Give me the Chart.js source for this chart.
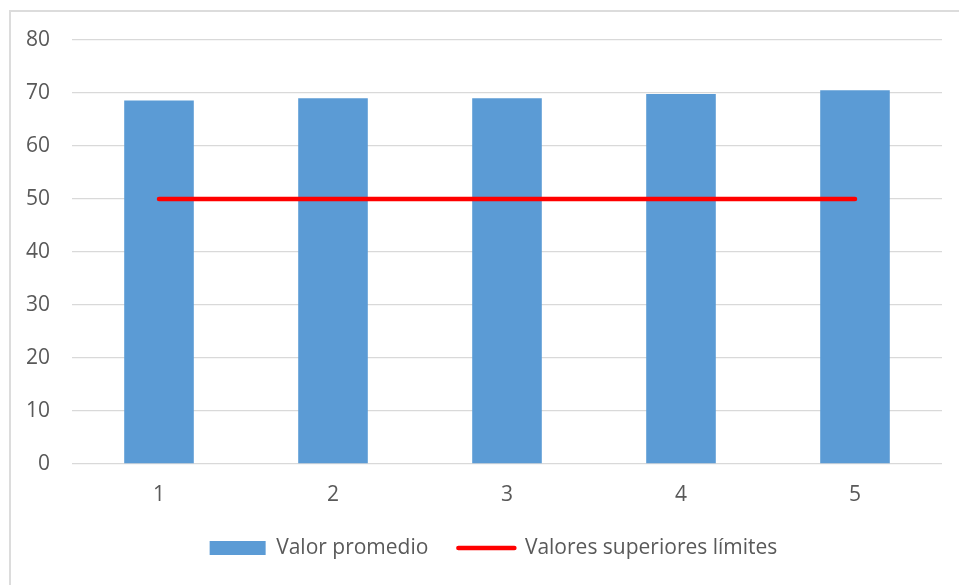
<!DOCTYPE html>
<html>
<head>
<meta charset="utf-8">
<script src="https://cdn.jsdelivr.net/npm/chart.js@4.4.1/dist/chart.umd.min.js"></script>
<style>
  html, body { margin: 0; padding: 0; background: #fff; }
  #wrap { position: relative; width: 959px; height: 585px; overflow: hidden; }
  #frame { position: absolute; left: 9px; top: 10px; width: 980px; height: 620px; border: 2px solid #dcdcdc; }
  canvas { position: absolute; left: 0; top: 0; }
</style>
</head>
<body>
<div id="wrap">
  <div id="frame"></div>
  <canvas id="chart" width="959" height="585"></canvas>
</div>
<script>
// categories and values
const categories = ['1', '2', '3', '4', '5'];
const promedio = [68.6, 69.0, 69.0, 69.8, 70.5];
const limites = [50, 50, 50, 50, 50];
const yTicks = [0, 10, 20, 30, 40, 50, 60, 70, 80];

const BLUE = '#5b9bd5';
const RED = '#ff0000';
const GRID = '#d9d9d9';
const TEXT = '#595959';
const FONT = { family: 'Open Sans', size: 21 };

const ctx = document.getElementById('chart').getContext('2d');
new Chart(ctx, {
  type: 'bar',
  data: {
    labels: categories,
    datasets: [
      {
        label: 'Valor promedio',
        data: promedio,
        backgroundColor: BLUE,
        borderWidth: 0,
        barPercentage: 0.4,
        categoryPercentage: 1,
        order: 1,
      },
      {
        type: 'line',
        label: 'Valores superiores límites',
        data: limites,
        borderColor: RED,
        borderWidth: 4.5,
        borderCapStyle: 'round',
        pointRadius: 0,
        fill: false,
        order: 0,
      },
    ],
  },
  options: {
    responsive: false,
    animation: false,
    // left padding shifts the centred legend to where it sits in the reference
    layout: { padding: { left: 45, top: 40, right: 17, bottom: 16.5 } },
    plugins: {
      tooltip: { enabled: false },
      legend: {
        position: 'bottom',
        labels: {
          color: TEXT,
          font: FONT,
          boxWidth: 56,
          boxHeight: 14,
          pointStyleWidth: 56,
          usePointStyle: true,
          padding: 30,
          sort: (a, b) => a.datasetIndex - b.datasetIndex,
          generateLabels: (chart) => chart.data.datasets.map((ds, i) => ({
            text: ds.label,
            datasetIndex: i,
            fillStyle: i === 0 ? BLUE : RED,
            strokeStyle: i === 0 ? BLUE : RED,
            lineWidth: i === 0 ? 0 : 4.5,
            lineCap: 'round',
            pointStyle: i === 0 ? 'rect' : 'line',
            fontColor: TEXT,
            hidden: false,
          })),
        },
      },
    },
    scales: {
      x: {
        grid: { display: false, drawTicks: false },
        border: { display: false },
        ticks: { color: TEXT, font: FONT, padding: 18 },
        afterFit: (s) => { s.height = 43.5; },
      },
      y: {
        min: 0,
        max: 80,
        afterBuildTicks: (s) => { s.ticks = yTicks.map(v => ({ value: v })); },
        grid: { color: GRID, lineWidth: 1.3, drawTicks: false },
        border: { display: false },
        // mirrored labels are not clipped to the narrow axis box; negative padding puts them back on the left
        ticks: { color: TEXT, font: FONT, mirror: true, crossAlign: 'far', padding: -46 },
        afterFit: (s) => { s.width = 27; },
      },
    },
  },
});
</script>
</body>
</html>
